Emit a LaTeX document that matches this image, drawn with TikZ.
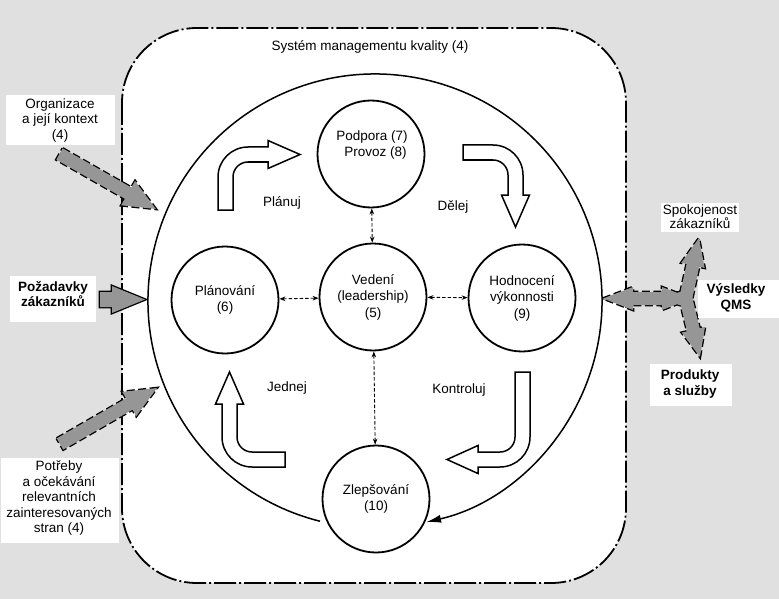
\documentclass[tikz,border=0pt]{standalone}
\usepackage{fontspec}
\setmainfont{Liberation Sans}
\usetikzlibrary{arrows.meta,calc}
\definecolor{bggray}{RGB}{224,224,224}
\definecolor{agray}{RGB}{150,150,150}
\newcommand{\arrowpoly}[4]{(0,-#2) -- ({#1-#4},-#2) -- ({#1-#4},-#3) -- (#1,0) -- ({#1-#4},#3) -- ({#1-#4},#2) -- (0,#2) -- cycle}
\begin{document}
\begin{tikzpicture}[x=1pt,y=-1pt,
  txt/.style={font=\fontsize{13.5}{15.5}\selectfont, align=center, inner sep=0pt},
  btxt/.style={font=\fontsize{13.5}{15.5}\selectfont\bfseries, align=center, inner sep=0pt},
  bubble/.style={circle, draw, line width=1.8pt, minimum size=107pt, inner sep=0pt, fill=white,
                 font=\fontsize{13.5}{16.5}\selectfont, align=center},
  hollow/.style={draw, fill=white, line width=1.5pt, line join=miter},
  gout/.style={draw=black, line width=2.6pt, dash pattern=on 8pt off 3.5pt},
  gsolid/.style={draw=black, line width=2.6pt},
  gfill/.style={fill=agray},
  link/.style={dash pattern=on 3.5pt off 2pt, line width=0.9pt,
               {Stealth[length=6pt,width=4.5pt]}-{Stealth[length=6pt,width=4.5pt]}},
]
\fill[bggray] (0,0) rectangle (779,599);
\useasboundingbox (0,0) rectangle (779,599);

% QMS rounded frame
\draw[fill=white, line width=1.8pt, rounded corners=75pt,
      dash pattern=on 22pt off 3pt on 2pt off 3pt] (122,28) rectangle (626,583);
\node[txt] (title) at (370,47) {Systém managementu kvality (4)};

% big cycle
\draw[line width=1.5pt, -{Latex[length=15pt,width=8pt]}]
  (375,301) ++(104:227) arc[start angle=104, end angle=437, radius=227];

% circles
\node[bubble] (pp) at (371,154) {};
\node[txt] (pptext) at (372,145) {Podpora (7)\\\hspace{7pt}Provoz (8)};
\node[bubble] (ved) at (373,297) {Vedení\\(leadership)\\(5)};
\node[bubble] (plan) at (225,300) {Plánování\\(6)};
\node[bubble] (hod) at (522,298) {Hodnocení\\výkonnosti\\(9)};
\node[bubble] (zl) at (376,499) {Zlepšování\\(10)};

\draw[link] (pp) -- (ved);
\draw[link] (ved) -- (zl);
\draw[link] (plan) -- (ved);
\draw[link] (ved) -- (hod);

% hollow PDCA arrows
\draw[hollow] (218,210) -- (218,177) arc[start angle=180,end angle=270,radius=30]
  -- (268,147) -- (268,140.5) -- (300,154.5) -- (268,168.5) -- (268,162) -- (248,162)
  arc[start angle=270,end angle=180,radius=15] -- (233,210) -- cycle;
\draw[hollow] (463,145) -- (493,145) arc[start angle=270,end angle=360,radius=30]
  -- (523,195) -- (529.5,195) -- (515.5,227) -- (501.5,195) -- (508,195) -- (508,175)
  arc[start angle=360,end angle=270,radius=15] -- (463,160) -- cycle;
\draw[hollow] (515,372) -- (530,372) -- (530,437) arc[start angle=0,end angle=90,radius=30]
  -- (478,467) -- (478,473.5) -- (447,459.5) -- (478,445.5) -- (478,452) -- (500,452)
  arc[start angle=90,end angle=0,radius=15] -- cycle;
\draw[hollow] (285,452) -- (285,467) -- (252,467) arc[start angle=90,end angle=180,radius=30]
  -- (222,404) -- (215.5,404) -- (229.5,372) -- (243.5,404) -- (237,404) -- (237,437)
  arc[start angle=180,end angle=90,radius=15] -- cycle;

\node[txt] (plabel) at (282,203) {Plánuj};
\node[txt] (dlabel) at (453,207) {Dělej};
\node[txt] (jlabel) at (287,388) {Jednej};
\node[txt] (klabel) at (459,390) {Kontroluj};

% left inputs
\begin{scope}[shift={(59.5,154)}, rotate=-29.7]
  \draw[gout] \arrowpoly{111}{6.5}{14}{32};
  \fill[gfill] \arrowpoly{111}{6.5}{14}{32};
\end{scope}
\begin{scope}[shift={(100,299.5)}]
  \draw[gsolid] \arrowpoly{45}{7.5}{13.5}{33};
  \fill[gfill] \arrowpoly{45}{7.5}{13.5}{33};
\end{scope}
\begin{scope}[shift={(60,444)}, rotate=30]
  \draw[gout] \arrowpoly{112}{6.5}{14}{32};
  \fill[gfill] \arrowpoly{112}{6.5}{14}{32};
\end{scope}

% right outputs
\begin{scope}[shift={(684,306)}, rotate=77.6]
  \draw[gout] \arrowpoly{69.6}{6.5}{12}{28};
\end{scope}
\begin{scope}[shift={(684,291)}, rotate=-76.4]
  \draw[gout] \arrowpoly{67.9}{6.5}{12}{28};
\end{scope}
\draw[gout] (603,298.5) -- (633,287) -- (633,292) -- (662,292) -- (662,287) -- (692,298.5)
  -- (662,310) -- (662,305) -- (633,305) -- (633,310) -- cycle;
\begin{scope}[shift={(684,306)}, rotate=77.6]
  \fill[gfill] \arrowpoly{69.6}{6.5}{12}{28};
\end{scope}
\begin{scope}[shift={(684,291)}, rotate=-76.4]
  \fill[gfill] \arrowpoly{67.9}{6.5}{12}{28};
\end{scope}
\fill[gfill] (603,298.5) -- (633,287) -- (633,292) -- (662,292) -- (662,287) -- (692,298.5)
  -- (662,310) -- (662,305) -- (633,305) -- (633,310) -- cycle;

% white label boxes
\fill[white] (6,95) rectangle (115,145);
\node[txt] (org) at (60,120.5) {Organizace\\a její kontext\\(4)};
\fill[white] (10,276) rectangle (96,322);
\node[btxt] (poz) at (53,294) {Požadavky\\zákazníků};
\fill[white] (1,458) rectangle (119,543);
\node[txt] (pot) at (59,498) {Potřeby\\a očekávání\\relevantních\\zainteresovaných\\stran (4)};
\fill[white] (661,203) rectangle (739,232);
\node[txt, font=\fontsize{13.5}{14}\selectfont] (spok) at (700,217) {Spokojenost\\zákazníků};
\fill[white] (698,280) rectangle (779,318);
\node[btxt] (vys) at (736,298) {Výsledky\\QMS};
\fill[white] (650,364) rectangle (732,406);
\node[btxt] (prod) at (690,384) {Produkty\\a služby};
\end{tikzpicture}
\end{document}
